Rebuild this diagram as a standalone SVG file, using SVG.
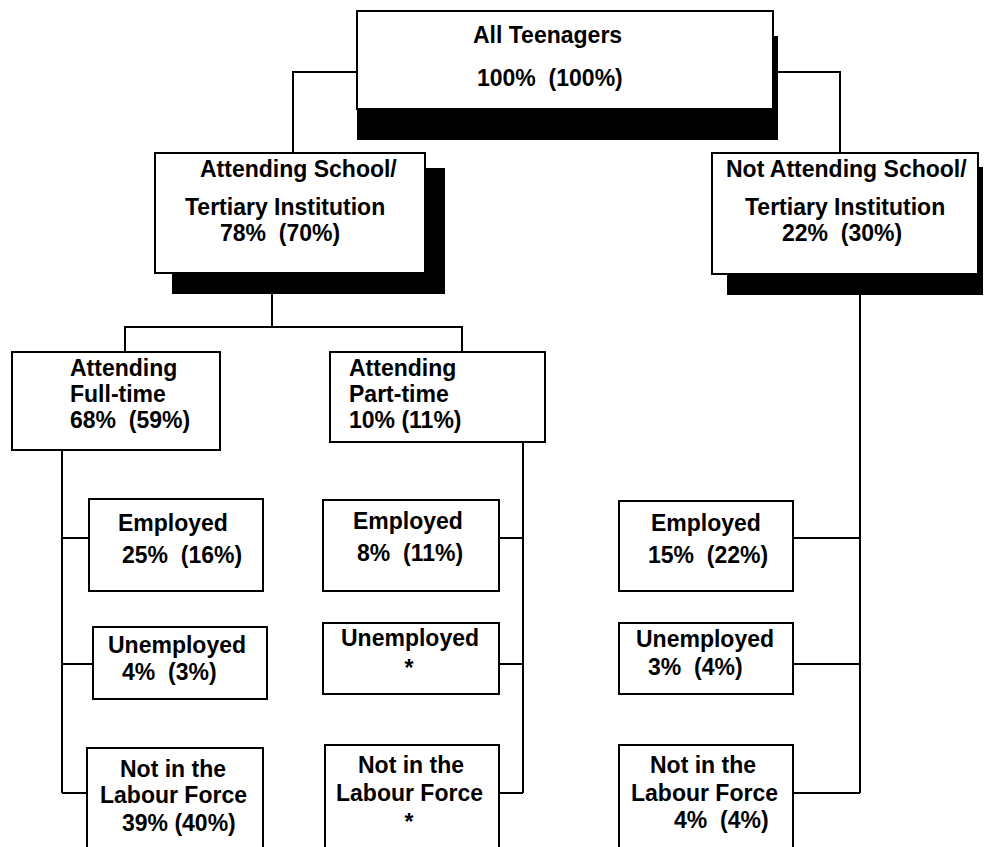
<svg xmlns="http://www.w3.org/2000/svg" width="988" height="847" viewBox="0 0 988 847">
<style>
.box{fill:#fff;stroke:#000;stroke-width:2}
.sh{fill:#000}
.ln{fill:none;stroke:#000;stroke-width:2}
text{font-family:"Liberation Sans",Arial,sans-serif;font-weight:bold;font-size:23px;fill:#000;white-space:pre}
.c{text-anchor:middle}
</style>
<rect width="988" height="847" fill="#fff"/>
<g id="connectors" class="ln">
<path d="M357,72 H293 V153"/>
<path d="M773,72 H840 V153"/>
<path d="M272,294 V327 M125,352 V327 H462 V352"/>
<path d="M62,450 V793 M62,538 H89 M62,664 H93 M62,793 H87"/>
<path d="M523,442 V793 M499,538 H523 M499,664 H523 M499,793 H523"/>
<path d="M860,295 V793 M793,538 H860 M793,664 H860 M793,793 H860"/>
</g>
<g id="all-teenagers">
<rect class="sh" x="357" y="36" width="421" height="104"/>
<rect class="box" x="357" y="11" width="416" height="98"/>
<text x="473" y="43">All Teenagers</text>
<text x="477" y="86">100%  (100%)</text>
</g>
<g id="attending-school">
<rect class="sh" x="172" y="168" width="273" height="126"/>
<rect class="box" x="155" y="153" width="270" height="120"/>
<text x="200" y="177">Attending School/</text>
<text x="185" y="215">Tertiary Institution</text>
<text x="220" y="241">78%  (70%)</text>
</g>
<g id="not-attending-school">
<rect class="sh" x="727" y="167" width="256" height="128"/>
<rect class="box" x="712" y="153" width="266" height="121"/>
<text x="726" y="177">Not Attending School/</text>
<text x="745" y="215">Tertiary Institution</text>
<text x="782" y="241">22%  (30%)</text>
</g>
<g id="full-time">
<rect class="box" x="12" y="352" width="208" height="98"/>
<text x="70" y="376">Attending</text>
<text x="70" y="402">Full-time</text>
<text x="70" y="428">68%  (59%)</text>
</g>
<g id="part-time">
<rect class="box" x="330" y="352" width="215" height="90"/>
<text x="349" y="376">Attending</text>
<text x="349" y="402">Part-time</text>
<text x="349" y="428">10% (11%)</text>
</g>
<g id="ft-employed">
<rect class="box" x="89" y="499" width="174" height="92"/>
<text x="118" y="531">Employed</text>
<text x="122" y="563">25%  (16%)</text>
</g>
<g id="ft-unemployed">
<rect class="box" x="93" y="627" width="174" height="72"/>
<text x="108" y="653">Unemployed</text>
<text x="122" y="680">4%  (3%)</text>
</g>
<g id="ft-nilf">
<rect class="box" x="87" y="748" width="176" height="110"/>
<text x="120" y="777">Not in the</text>
<text x="100" y="803">Labour Force</text>
<text x="122" y="831">39% (40%)</text>
</g>
<g id="pt-employed">
<rect class="box" x="323" y="500" width="176" height="91"/>
<text x="353" y="529">Employed</text>
<text x="357" y="561">8%  (11%)</text>
</g>
<g id="pt-unemployed">
<rect class="box" x="323" y="623" width="176" height="71"/>
<text x="341" y="646">Unemployed</text>
<text class="c" x="409" y="676">*</text>
</g>
<g id="pt-nilf">
<rect class="box" x="325" y="745" width="174" height="110"/>
<text x="358" y="773">Not in the</text>
<text x="336" y="801">Labour Force</text>
<text class="c" x="409" y="830">*</text>
</g>
<g id="na-employed">
<rect class="box" x="619" y="501" width="174" height="90"/>
<text x="651" y="531">Employed</text>
<text x="648" y="563">15%  (22%)</text>
</g>
<g id="na-unemployed">
<rect class="box" x="619" y="623" width="174" height="71"/>
<text x="636" y="647">Unemployed</text>
<text x="648" y="675">3%  (4%)</text>
</g>
<g id="na-nilf">
<rect class="box" x="619" y="745" width="174" height="110"/>
<text x="650" y="773">Not in the</text>
<text x="631" y="801">Labour Force</text>
<text x="674" y="828">4%  (4%)</text>
</g>
</svg>
